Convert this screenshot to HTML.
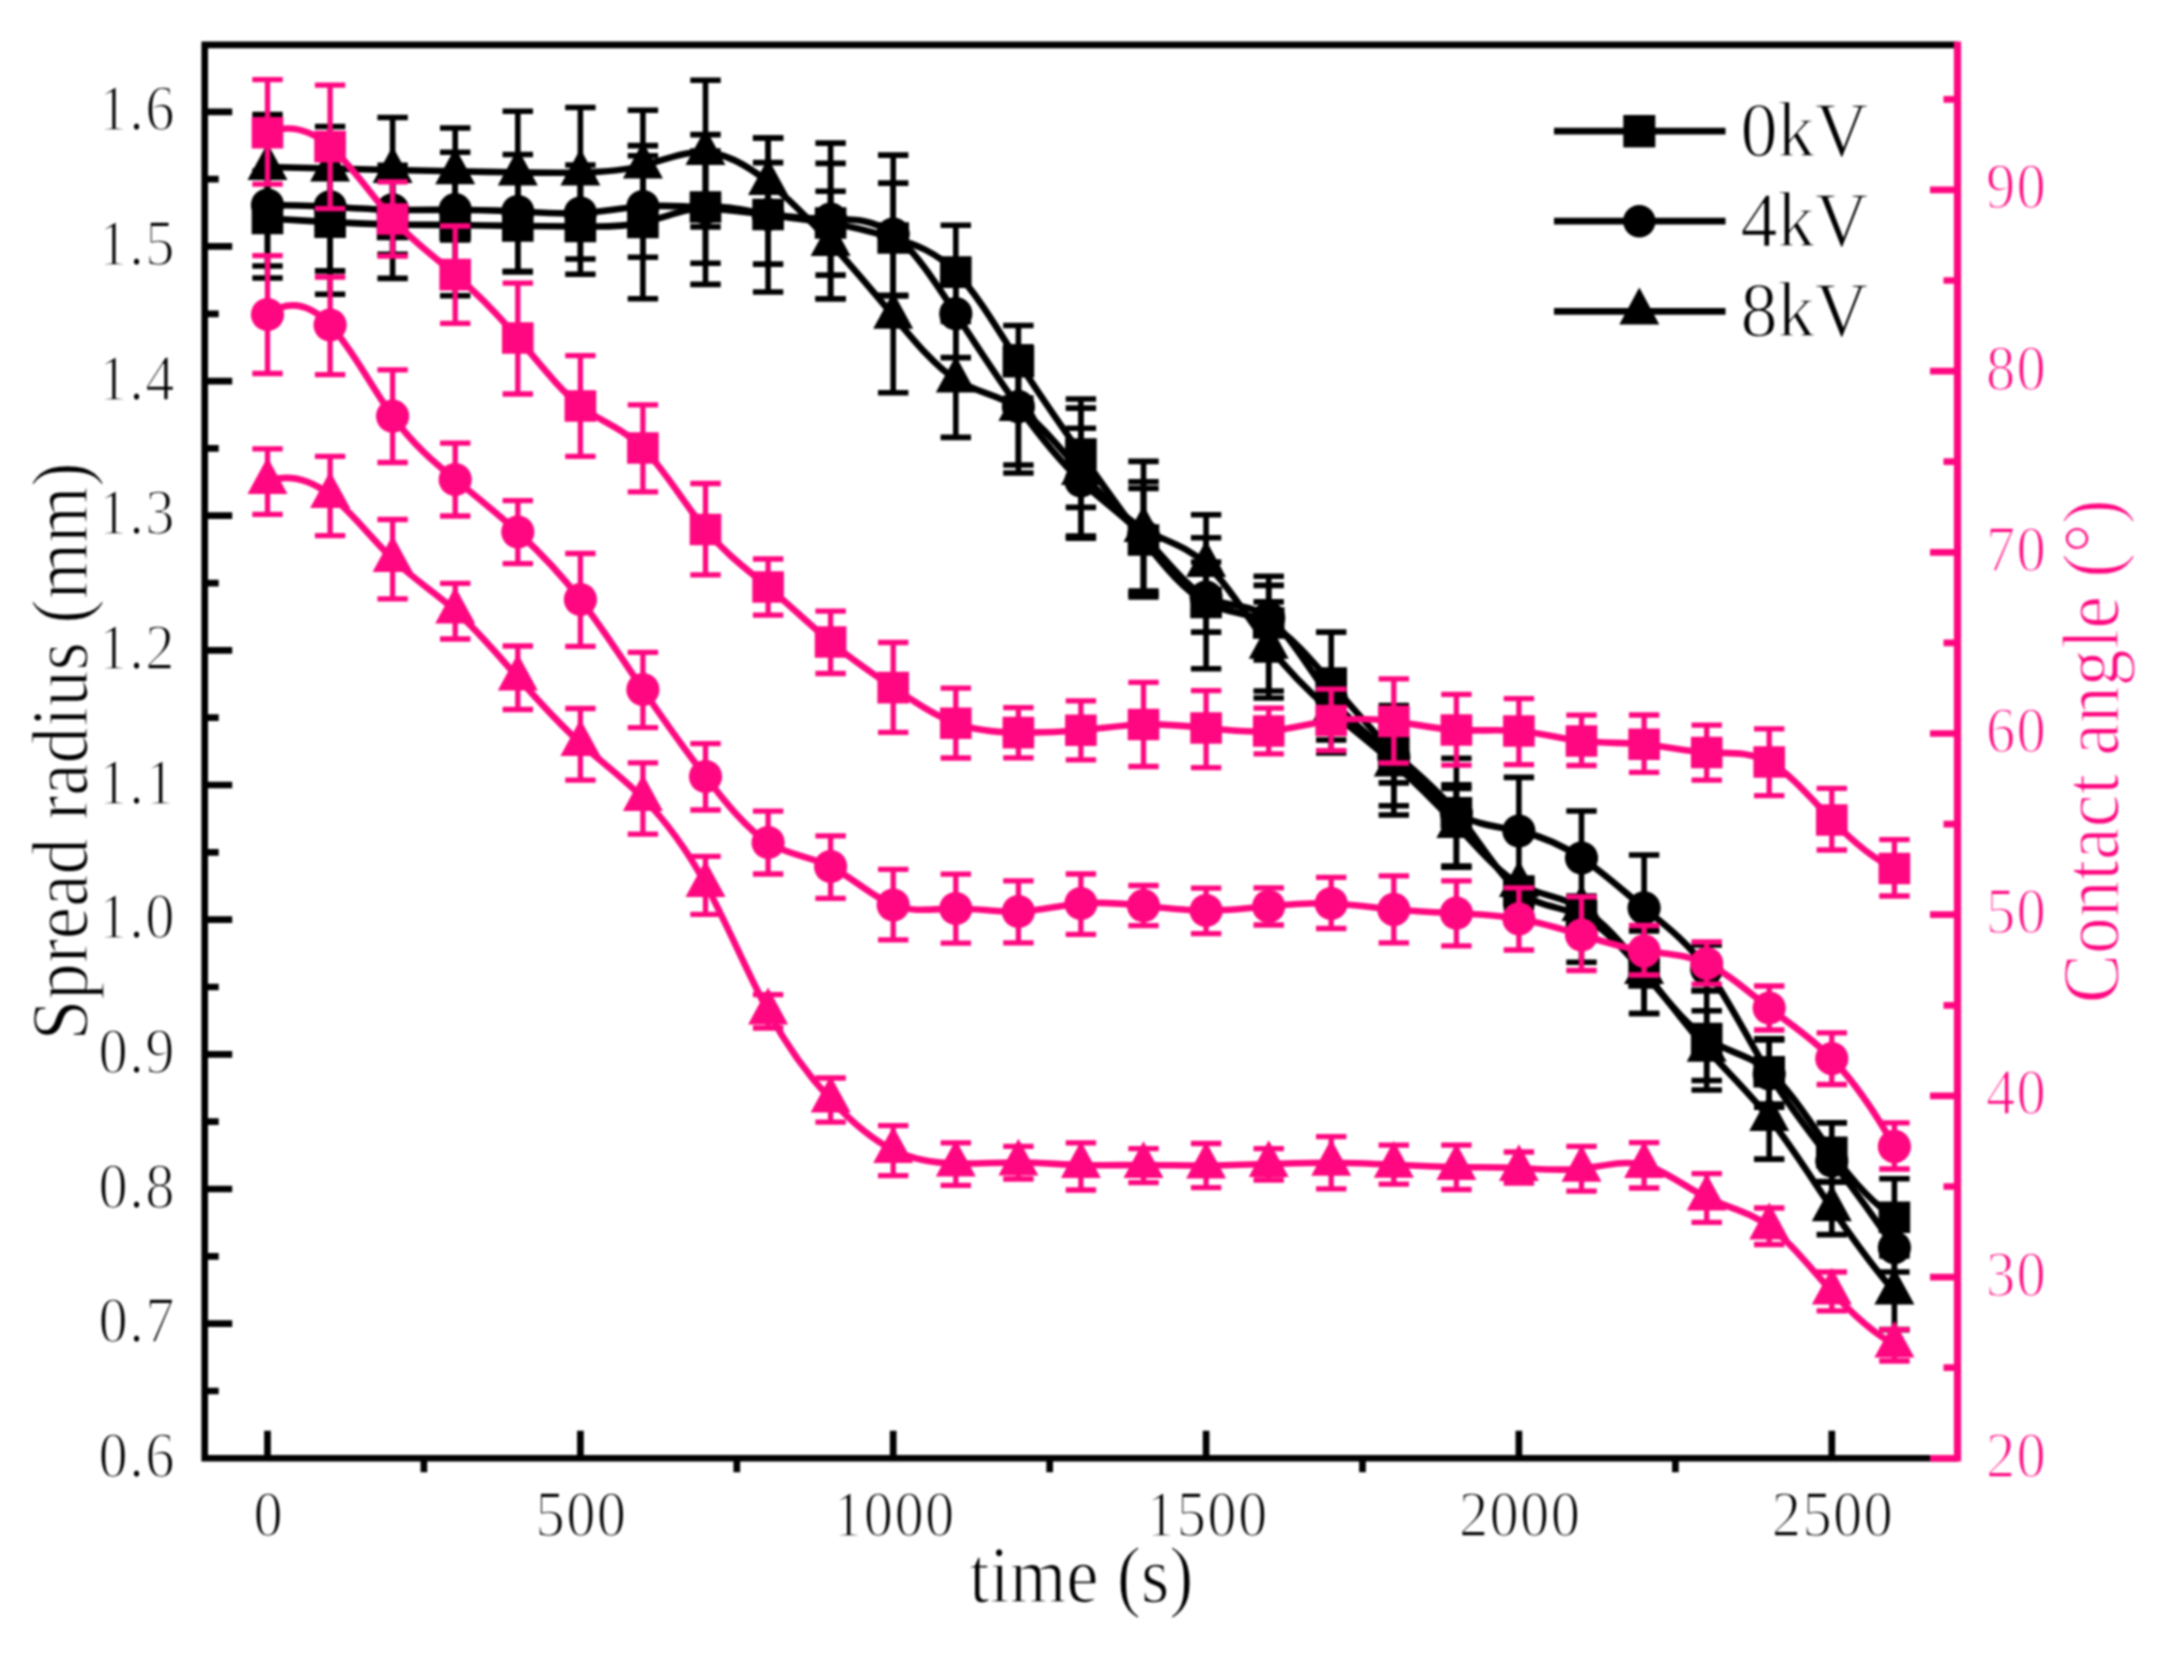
<!DOCTYPE html>
<html lang="en">
<head>
<meta charset="utf-8">
<title>Spread radius and contact angle vs time</title>
<style>
html,body{margin:0;padding:0;background:#fff;}
body{width:2183px;height:1654px;overflow:hidden;}
svg{display:block;}
</style>
</head>
<body>
<svg width="2183" height="1654" viewBox="0 0 2183 1654">
<defs><filter id="soft" x="0" y="0" width="100%" height="100%" filterUnits="userSpaceOnUse" color-interpolation-filters="sRGB"><feGaussianBlur stdDeviation="0.9"/></filter></defs>
<g filter="url(#soft)">
<rect x="0" y="0" width="2183" height="1654" fill="#fff"/>
<path d="M204.7 1391h14M204.7 1323.7h27.5M204.7 1256.3h14M204.7 1189h27.5M204.7 1121.7h14M204.7 1054.3h27.5M204.7 987h14M204.7 919.7h27.5M204.7 852.4h14M204.7 785h27.5M204.7 717.7h14M204.7 650.4h27.5M204.7 583.1h14M204.7 515.7h27.5M204.7 448.4h14M204.7 381.1h27.5M204.7 313.8h14M204.7 246.4h27.5M204.7 179.1h14M204.7 111.8h27.5M267.5 1458.3v-27.5M423.9 1458.3v14M580.4 1458.3v-27.5M736.8 1458.3v14M893.2 1458.3v-27.5M1049.7 1458.3v14M1206.1 1458.3v-27.5M1362.5 1458.3v14M1518.9 1458.3v-27.5M1675.4 1458.3v14M1831.8 1458.3v-27.5" stroke="#000" stroke-width="6.7" fill="none"/>
<path d="M1957.5 44.9H204.7V1458.3H1957.5" stroke="#000" stroke-width="6.6" fill="none" stroke-linejoin="miter"/>
<path d="M1957.5 1458.3h-27.5M1957.5 1367.7h-14M1957.5 1277.1h-27.5M1957.5 1186.5h-14M1957.5 1095.9h-27.5M1957.5 1005.3h-14M1957.5 914.7h-27.5M1957.5 824.1h-14M1957.5 733.5h-27.5M1957.5 642.9h-14M1957.5 552.3h-27.5M1957.5 461.7h-14M1957.5 371.1h-27.5M1957.5 280.5h-14M1957.5 189.9h-27.5M1957.5 99.3h-14" stroke="#ff0780" stroke-width="6.7" fill="none"/>
<path d="M1957.5 41.6V1461.6" stroke="#ff0780" stroke-width="7.199999999999999" fill="none"/>
<g id="black">
<path d="M267.5 218.5C288.4 219.7 309.2 221 330.1 222.1C350.9 223.2 371.8 224.1 392.6 224.5C413.5 224.9 434.4 224.8 455.2 225C476.1 225.2 496.9 225.7 517.8 226C538.6 226.3 559.5 226.4 580.4 226.5C601.2 226.6 622.1 226.9 642.9 222.4C663.8 217.9 684.6 208.7 705.5 207C726.4 205.3 747.2 210.9 768.1 214.5C788.9 218.1 809.8 219.5 830.6 223C851.5 226.5 872.4 231.9 893.2 238C914.1 244.1 934.9 250.9 955.8 272.1C976.6 293.3 997.5 329 1018.4 361.8C1039.2 394.6 1060.1 424.4 1080.9 454C1101.8 483.6 1122.7 513.1 1143.5 540C1164.4 566.9 1185.2 591.3 1206.1 602.5C1226.9 613.7 1247.8 611.8 1268.7 623C1289.5 634.2 1310.4 658.5 1331.2 683C1352.1 707.5 1372.9 732.1 1393.8 752C1414.7 771.9 1435.5 787.2 1456.4 812.7C1477.2 838.2 1498.1 874.1 1518.9 891C1539.8 907.9 1560.7 905.9 1581.5 916C1602.4 926.1 1623.2 948.4 1644.1 973C1664.9 997.6 1685.8 1024.4 1706.7 1038.5C1727.5 1052.6 1748.4 1053.9 1769.2 1071.7C1790.1 1089.5 1810.9 1123.7 1831.8 1152.4C1852.7 1181.1 1873.5 1204.5 1894.4 1217.3" fill="none" stroke="#000" stroke-width="6.6" stroke-linejoin="round"/>
<path d="M267.5 171V266M252.3 171H282.7M252.3 266H282.7M330.1 150V294.3M314.9 150H345.3M314.9 294.3H345.3M392.6 170.5V278.4M377.4 170.5H407.8M377.4 278.4H407.8M455.2 152.2V295.8M440 152.2H470.4M440 295.8H470.4M517.8 179V271.6M502.6 179H533M502.6 271.6H533M580.4 176.7V274.3M565.2 176.7H595.6M565.2 274.3H595.6M642.9 145.6V298.8M627.7 145.6H658.1M627.7 298.8H658.1M705.5 134.6V284.4M690.3 134.6H720.7M690.3 284.4H720.7M768.1 162.6V264.1M752.9 162.6H783.3M752.9 264.1H783.3M830.6 143.1V298.8M815.4 143.1H845.8M815.4 298.8H845.8M893.2 183.1V295.3M878 183.1H908.4M878 295.3H908.4M955.8 225.2V319M940.6 225.2H971M940.6 319H971M1018.4 325.5V398M1003.2 325.5H1033.6M1003.2 398H1033.6M1080.9 399V507.4M1065.7 399H1096.1M1065.7 507.4H1096.1M1143.5 488.4V594M1128.3 488.4H1158.7M1128.3 594H1158.7M1206.1 537.7V668.7M1190.9 537.7H1221.3M1190.9 668.7H1221.3M1268.7 585.4V698M1253.5 585.4H1283.9M1253.5 698H1283.9M1331.2 632.1V733M1316 632.1H1346.4M1316 733H1346.4M1393.8 705.6V805.8M1378.6 705.6H1409M1378.6 805.8H1409M1456.4 758.2V867.2M1441.2 758.2H1471.6M1441.2 867.2H1471.6M1518.9 885V908M1503.7 885H1534.1M1503.7 908H1534.1M1581.5 900V962.2M1566.3 900H1596.7M1566.3 962.2H1596.7M1644.1 931V1013.5M1628.9 931H1659.3M1628.9 1013.5H1659.3M1706.7 990.6V1090M1691.5 990.6H1721.9M1691.5 1090H1721.9M1769.2 1038.8V1104M1754 1038.8H1784.4M1754 1104H1784.4M1831.8 1122.9V1182M1816.6 1122.9H1847M1816.6 1182H1847M1894.4 1178.8V1256M1879.2 1178.8H1909.6M1879.2 1256H1909.6" fill="none" stroke="#000" stroke-width="5.6"/>
<path d="M251.7 202.7h31.6v31.6h-31.6zM314.3 206.3h31.6v31.6h-31.6zM376.8 208.7h31.6v31.6h-31.6zM439.4 209.2h31.6v31.6h-31.6zM502 210.2h31.6v31.6h-31.6zM564.6 210.7h31.6v31.6h-31.6zM627.1 206.6h31.6v31.6h-31.6zM689.7 191.2h31.6v31.6h-31.6zM752.3 198.7h31.6v31.6h-31.6zM814.8 207.2h31.6v31.6h-31.6zM877.4 222.2h31.6v31.6h-31.6zM940 256.3h31.6v31.6h-31.6zM1002.6 346h31.6v31.6h-31.6zM1065.1 438.2h31.6v31.6h-31.6zM1127.7 524.2h31.6v31.6h-31.6zM1190.3 586.7h31.6v31.6h-31.6zM1252.9 607.2h31.6v31.6h-31.6zM1315.4 667.2h31.6v31.6h-31.6zM1378 736.2h31.6v31.6h-31.6zM1440.6 796.9h31.6v31.6h-31.6zM1503.1 875.2h31.6v31.6h-31.6zM1565.7 900.2h31.6v31.6h-31.6zM1628.3 957.2h31.6v31.6h-31.6zM1690.9 1022.7h31.6v31.6h-31.6zM1753.4 1055.9h31.6v31.6h-31.6zM1816 1136.6h31.6v31.6h-31.6zM1878.6 1201.5h31.6v31.6h-31.6z" fill="#000"/>
<path d="M267.5 205C288.4 205 309.2 205.7 330.1 206.8C350.9 207.9 371.8 209.4 392.6 209.8C413.5 210.2 434.4 209.7 455.2 209.7C476.1 209.7 496.9 210.4 517.8 211.5C538.6 212.6 559.5 214.2 580.4 213C601.2 211.8 622.1 207.9 642.9 206.5C663.8 205.1 684.6 206.2 705.5 208C726.4 209.8 747.2 212.3 768.1 214.5C788.9 216.7 809.8 218.6 830.6 219C851.5 219.4 872.4 218.5 893.2 234C914.1 249.5 934.9 281.6 955.8 313.7C976.6 345.8 997.5 377.8 1018.4 406.7C1039.2 435.6 1060.1 461.2 1080.9 481C1101.8 500.8 1122.7 514.7 1143.5 536C1164.4 557.3 1185.2 585.8 1206.1 597C1226.9 608.2 1247.8 602 1268.7 618C1289.5 634 1310.4 672 1331.2 698C1352.1 724 1372.9 737.9 1393.8 757C1414.7 776.1 1435.5 800.4 1456.4 813C1477.2 825.6 1498.1 826.3 1518.9 831C1539.8 835.7 1560.7 844.2 1581.5 858C1602.4 871.8 1623.2 890.9 1644.1 908C1664.9 925.1 1685.8 940.3 1706.7 969C1727.5 997.7 1748.4 1039.9 1769.2 1074C1790.1 1108.1 1810.9 1134.1 1831.8 1161C1852.7 1187.9 1873.5 1215.8 1894.4 1247.6" fill="none" stroke="#000" stroke-width="6.6" stroke-linejoin="round"/>
<path d="M267.5 132V278M252.3 132H282.7M252.3 278H282.7M330.1 142.7V270.9M314.9 142.7H345.3M314.9 270.9H345.3M392.6 165.3V254.3M377.4 165.3H407.8M377.4 254.3H407.8M455.2 180V240M440 180H470.4M440 240H470.4M517.8 154.5V271.6M502.6 154.5H533M502.6 271.6H533M580.4 165V259M565.2 165H595.6M565.2 259H595.6M642.9 155.8V257.3M627.7 155.8H658.1M627.7 257.3H658.1M705.5 151V263.3M690.3 151H720.7M690.3 263.3H720.7M768.1 138V292M752.9 138H783.3M752.9 292H783.3M830.6 163.4V275.1M815.4 163.4H845.8M815.4 275.1H845.8M893.2 155.1V296M878 155.1H908.4M878 296H908.4M955.8 269.8V357.6M940.6 269.8H971M940.6 357.6H971M1018.4 347V465M1003.2 347H1033.6M1003.2 465H1033.6M1080.9 428.3V538.2M1065.7 428.3H1096.1M1065.7 538.2H1096.1M1143.5 481.8V591M1128.3 481.8H1158.7M1128.3 591H1158.7M1206.1 562V632.1M1190.9 562H1221.3M1190.9 632.1H1221.3M1268.7 576.2V660M1253.5 576.2H1283.9M1253.5 660H1283.9M1331.2 676V740M1316 676H1346.4M1316 740H1346.4M1393.8 731V782.9M1378.6 731H1409M1378.6 782.9H1409M1456.4 784.8V834M1441.2 784.8H1471.6M1441.2 834H1471.6M1518.9 777.4V884M1503.7 777.4H1534.1M1503.7 884H1534.1M1581.5 811V905M1566.3 811H1596.7M1566.3 905H1596.7M1644.1 855V961M1628.9 855H1659.3M1628.9 961H1659.3M1706.7 945V990.6M1691.5 945H1721.9M1691.5 990.6H1721.9M1769.2 1040V1107.2M1754 1040H1784.4M1754 1107.2H1784.4M1831.8 1140V1182M1816.6 1140H1847M1816.6 1182H1847M1894.4 1223V1272M1879.2 1223H1909.6M1879.2 1272H1909.6" fill="none" stroke="#000" stroke-width="5.6"/>
<path d="M250.9 205a16.6 16.6 0 1 0 33.2 0a16.6 16.6 0 1 0 -33.2 0zM313.5 206.8a16.6 16.6 0 1 0 33.2 0a16.6 16.6 0 1 0 -33.2 0zM376 209.8a16.6 16.6 0 1 0 33.2 0a16.6 16.6 0 1 0 -33.2 0zM438.6 209.7a16.6 16.6 0 1 0 33.2 0a16.6 16.6 0 1 0 -33.2 0zM501.2 211.5a16.6 16.6 0 1 0 33.2 0a16.6 16.6 0 1 0 -33.2 0zM563.8 213a16.6 16.6 0 1 0 33.2 0a16.6 16.6 0 1 0 -33.2 0zM626.3 206.5a16.6 16.6 0 1 0 33.2 0a16.6 16.6 0 1 0 -33.2 0zM688.9 208a16.6 16.6 0 1 0 33.2 0a16.6 16.6 0 1 0 -33.2 0zM751.5 214.5a16.6 16.6 0 1 0 33.2 0a16.6 16.6 0 1 0 -33.2 0zM814 219a16.6 16.6 0 1 0 33.2 0a16.6 16.6 0 1 0 -33.2 0zM876.6 234a16.6 16.6 0 1 0 33.2 0a16.6 16.6 0 1 0 -33.2 0zM939.2 313.7a16.6 16.6 0 1 0 33.2 0a16.6 16.6 0 1 0 -33.2 0zM1001.8 406.7a16.6 16.6 0 1 0 33.2 0a16.6 16.6 0 1 0 -33.2 0zM1064.3 481a16.6 16.6 0 1 0 33.2 0a16.6 16.6 0 1 0 -33.2 0zM1126.9 536a16.6 16.6 0 1 0 33.2 0a16.6 16.6 0 1 0 -33.2 0zM1189.5 597a16.6 16.6 0 1 0 33.2 0a16.6 16.6 0 1 0 -33.2 0zM1252.1 618a16.6 16.6 0 1 0 33.2 0a16.6 16.6 0 1 0 -33.2 0zM1314.6 698a16.6 16.6 0 1 0 33.2 0a16.6 16.6 0 1 0 -33.2 0zM1377.2 757a16.6 16.6 0 1 0 33.2 0a16.6 16.6 0 1 0 -33.2 0zM1439.8 813a16.6 16.6 0 1 0 33.2 0a16.6 16.6 0 1 0 -33.2 0zM1502.3 831a16.6 16.6 0 1 0 33.2 0a16.6 16.6 0 1 0 -33.2 0zM1564.9 858a16.6 16.6 0 1 0 33.2 0a16.6 16.6 0 1 0 -33.2 0zM1627.5 908a16.6 16.6 0 1 0 33.2 0a16.6 16.6 0 1 0 -33.2 0zM1690.1 969a16.6 16.6 0 1 0 33.2 0a16.6 16.6 0 1 0 -33.2 0zM1752.6 1074a16.6 16.6 0 1 0 33.2 0a16.6 16.6 0 1 0 -33.2 0zM1815.2 1161a16.6 16.6 0 1 0 33.2 0a16.6 16.6 0 1 0 -33.2 0zM1877.8 1247.6a16.6 16.6 0 1 0 33.2 0a16.6 16.6 0 1 0 -33.2 0z" fill="#000"/>
<path d="M267.5 167C288.4 167.5 309.2 168 330.1 168.5C350.9 169 371.8 169.6 392.6 170C413.5 170.4 434.4 170.8 455.2 171.2C476.1 171.6 496.9 172.1 517.8 172.4C538.6 172.7 559.5 173 580.4 172.5C601.2 172 622.1 170.9 642.9 165.6C663.8 160.3 684.6 150.8 705.5 152.1C726.4 153.4 747.2 165.3 768.1 182C788.9 198.7 809.8 220 830.6 243C851.5 266 872.4 290.7 893.2 315.7C914.1 340.7 934.9 366.1 955.8 379.5C976.6 392.9 997.5 394.1 1018.4 408C1039.2 421.9 1060.1 448.3 1080.9 472C1101.8 495.7 1122.7 516.7 1143.5 529C1164.4 541.3 1185.2 544.7 1206.1 564C1226.9 583.3 1247.8 618.3 1268.7 645.7C1289.5 673.1 1310.4 693 1331.2 711C1352.1 729 1372.9 745.1 1393.8 763.5C1414.7 781.9 1435.5 802.5 1456.4 825C1477.2 847.5 1498.1 871.9 1518.9 884C1539.8 896.1 1560.7 895.8 1581.5 908C1602.4 920.2 1623.2 944.7 1644.1 971C1664.9 997.3 1685.8 1025.2 1706.7 1048.8C1727.5 1072.4 1748.4 1091.8 1769.2 1118C1790.1 1144.2 1810.9 1177.4 1831.8 1208.2C1852.7 1239 1873.5 1267.5 1894.4 1291.6" fill="none" stroke="#000" stroke-width="6.6" stroke-linejoin="round"/>
<path d="M267.5 114.6V219.3M252.3 114.6H282.7M252.3 219.3H282.7M330.1 126.5V210.5M314.9 126.5H345.3M314.9 210.5H345.3M392.6 117.5V222.5M377.4 117.5H407.8M377.4 222.5H407.8M455.2 128V214.4M440 128H470.4M440 214.4H470.4M517.8 111.2V233.6M502.6 111.2H533M502.6 233.6H533M580.4 107.5V237.5M565.2 107.5H595.6M565.2 237.5H595.6M642.9 110.3V221M627.7 110.3H658.1M627.7 221H658.1M705.5 80.3V226.9M690.3 80.3H720.7M690.3 226.9H720.7M768.1 138V226M752.9 138H783.3M752.9 226H783.3M830.6 191.3V298.8M815.4 191.3H845.8M815.4 298.8H845.8M893.2 238.7V392.7M878 238.7H908.4M878 392.7H908.4M955.8 321.5V437.4M940.6 321.5H971M940.6 437.4H971M1018.4 347V473M1003.2 347H1033.6M1003.2 473H1033.6M1080.9 408.1V536M1065.7 408.1H1096.1M1065.7 536H1096.1M1143.5 461.4V597M1128.3 461.4H1158.7M1128.3 597H1158.7M1206.1 514.8V613M1190.9 514.8H1221.3M1190.9 613H1221.3M1268.7 601.9V691M1253.5 601.9H1283.9M1253.5 691H1283.9M1331.2 682V753M1316 682H1346.4M1316 753H1346.4M1393.8 712V815M1378.6 712H1409M1378.6 815H1409M1456.4 788.4V866M1441.2 788.4H1471.6M1441.2 866H1471.6M1518.9 880V905M1503.7 880H1534.1M1503.7 905H1534.1M1581.5 896V936M1566.3 896H1596.7M1566.3 936H1596.7M1644.1 929V1013.5M1628.9 929H1659.3M1628.9 1013.5H1659.3M1706.7 1010.7V1080.5M1691.5 1010.7H1721.9M1691.5 1080.5H1721.9M1769.2 1077V1159.1M1754 1077H1784.4M1754 1159.1H1784.4M1831.8 1181.5V1234.6M1816.6 1181.5H1847M1816.6 1234.6H1847M1894.4 1253.6V1329.6M1879.2 1253.6H1909.6M1879.2 1329.6H1909.6" fill="none" stroke="#000" stroke-width="5.6"/>
<path d="M267.5 143.2L287.5 180L247.5 180zM330.1 144.7L350.1 181.5L310.1 181.5zM392.6 146.2L412.6 183L372.6 183zM455.2 147.4L475.2 184.2L435.2 184.2zM517.8 148.6L537.8 185.4L497.8 185.4zM580.4 148.7L600.4 185.5L560.4 185.5zM642.9 141.8L662.9 178.6L622.9 178.6zM705.5 128.3L725.5 165.1L685.5 165.1zM768.1 158.2L788.1 195L748.1 195zM830.6 219.2L850.6 256L810.6 256zM893.2 291.9L913.2 328.7L873.2 328.7zM955.8 355.7L975.8 392.5L935.8 392.5zM1018.4 384.2L1038.4 421L998.4 421zM1080.9 448.2L1100.9 485L1060.9 485zM1143.5 505.2L1163.5 542L1123.5 542zM1206.1 540.2L1226.1 577L1186.1 577zM1268.7 621.9L1288.7 658.7L1248.7 658.7zM1331.2 687.2L1351.2 724L1311.2 724zM1393.8 739.7L1413.8 776.5L1373.8 776.5zM1456.4 801.2L1476.4 838L1436.4 838zM1518.9 860.2L1538.9 897L1498.9 897zM1581.5 884.2L1601.5 921L1561.5 921zM1644.1 947.2L1664.1 984L1624.1 984zM1706.7 1025L1726.7 1061.8L1686.7 1061.8zM1769.2 1094.2L1789.2 1131L1749.2 1131zM1831.8 1184.4L1851.8 1221.2L1811.8 1221.2zM1894.4 1267.8L1914.4 1304.6L1874.4 1304.6z" fill="#000"/>
</g>
<g id="pink">
<path d="M267.5 132.8C288.4 124 309.2 128.6 330.1 146.6C350.9 164.6 371.8 196 392.6 219C413.5 242 434.4 256.7 455.2 274.6C476.1 292.5 496.9 313.7 517.8 338C538.6 362.3 559.5 389.7 580.4 406C601.2 422.3 622.1 427.5 642.9 448C663.8 468.5 684.6 504.2 705.5 529.5C726.4 554.8 747.2 569.5 768.1 587C788.9 604.5 809.8 624.7 830.6 642C851.5 659.3 872.4 673.5 893.2 687.6C914.1 701.7 934.9 715.6 955.8 723.3C976.6 731 997.5 732.3 1018.4 732.6C1039.2 732.9 1060.1 732.1 1080.9 730.2C1101.8 728.3 1122.7 725.1 1143.5 724.5C1164.4 723.9 1185.2 725.8 1206.1 728C1226.9 730.2 1247.8 732.8 1268.7 731C1289.5 729.2 1310.4 723.1 1331.2 720.5C1352.1 717.9 1372.9 718.7 1393.8 721.4C1414.7 724.1 1435.5 728.7 1456.4 730C1477.2 731.3 1498.1 729.2 1518.9 731C1539.8 732.8 1560.7 738.6 1581.5 741C1602.4 743.4 1623.2 742.3 1644.1 744.3C1664.9 746.3 1685.8 751.4 1706.7 752.5C1727.5 753.6 1748.4 750.8 1769.2 762C1790.1 773.2 1810.9 798.5 1831.8 820C1852.7 841.5 1873.5 859.1 1894.4 868.5" fill="none" stroke="#ff0780" stroke-width="6.6" stroke-linejoin="round"/>
<path d="M267.5 79.6V184.2M252.3 79.6H282.7M252.3 184.2H282.7M330.1 85.2V208.7M314.9 85.2H345.3M314.9 208.7H345.3M392.6 181.8V256.1M377.4 181.8H407.8M377.4 256.1H407.8M455.2 226V323.4M440 226H470.4M440 323.4H470.4M517.8 283.1V394M502.6 283.1H533M502.6 394H533M580.4 355.6V456.3M565.2 355.6H595.6M565.2 456.3H595.6M642.9 404.8V491.9M627.7 404.8H658.1M627.7 491.9H658.1M705.5 483.5V574.8M690.3 483.5H720.7M690.3 574.8H720.7M768.1 559V615.1M752.9 559H783.3M752.9 615.1H783.3M830.6 611.2V673.5M815.4 611.2H845.8M815.4 673.5H845.8M893.2 642.5V732.4M878 642.5H908.4M878 732.4H908.4M955.8 688.2V758M940.6 688.2H971M940.6 758H971M1018.4 707.7V757.8M1003.2 707.7H1033.6M1003.2 757.8H1033.6M1080.9 700.8V759.9M1065.7 700.8H1096.1M1065.7 759.9H1096.1M1143.5 682.4V766.5M1128.3 682.4H1158.7M1128.3 766.5H1158.7M1206.1 690.7V767.7M1190.9 690.7H1221.3M1190.9 767.7H1221.3M1268.7 708.1V753.9M1253.5 708.1H1283.9M1253.5 753.9H1283.9M1331.2 689.2V750.6M1316 689.2H1346.4M1316 750.6H1346.4M1393.8 678.8V763M1378.6 678.8H1409M1378.6 763H1409M1456.4 694.4V765.2M1441.2 694.4H1471.6M1441.2 765.2H1471.6M1518.9 698.6V764.6M1503.7 698.6H1534.1M1503.7 764.6H1534.1M1581.5 715.1V765.5M1566.3 715.1H1596.7M1566.3 765.5H1596.7M1644.1 715V772.4M1628.9 715H1659.3M1628.9 772.4H1659.3M1706.7 725.2V780.2M1691.5 725.2H1721.9M1691.5 780.2H1721.9M1769.2 728.9V795.6M1754 728.9H1784.4M1754 795.6H1784.4M1831.8 788.3V850M1816.6 788.3H1847M1816.6 850H1847M1894.4 839.6V896M1879.2 839.6H1909.6M1879.2 896H1909.6" fill="none" stroke="#ff0780" stroke-width="5.3"/>
<path d="M251.7 117h31.6v31.6h-31.6zM314.3 130.8h31.6v31.6h-31.6zM376.8 203.2h31.6v31.6h-31.6zM439.4 258.8h31.6v31.6h-31.6zM502 322.2h31.6v31.6h-31.6zM564.6 390.2h31.6v31.6h-31.6zM627.1 432.2h31.6v31.6h-31.6zM689.7 513.7h31.6v31.6h-31.6zM752.3 571.2h31.6v31.6h-31.6zM814.8 626.2h31.6v31.6h-31.6zM877.4 671.8h31.6v31.6h-31.6zM940 707.5h31.6v31.6h-31.6zM1002.6 716.8h31.6v31.6h-31.6zM1065.1 714.4h31.6v31.6h-31.6zM1127.7 708.7h31.6v31.6h-31.6zM1190.3 712.2h31.6v31.6h-31.6zM1252.9 715.2h31.6v31.6h-31.6zM1315.4 704.7h31.6v31.6h-31.6zM1378 705.6h31.6v31.6h-31.6zM1440.6 714.2h31.6v31.6h-31.6zM1503.1 715.2h31.6v31.6h-31.6zM1565.7 725.2h31.6v31.6h-31.6zM1628.3 728.5h31.6v31.6h-31.6zM1690.9 736.7h31.6v31.6h-31.6zM1753.4 746.2h31.6v31.6h-31.6zM1816 804.2h31.6v31.6h-31.6zM1878.6 852.7h31.6v31.6h-31.6z" fill="#ff0780"/>
<path d="M267.5 314.5C288.4 299.5 309.2 303.1 330.1 325C350.9 346.9 371.8 387.3 392.6 416.2C413.5 445.1 434.4 462.5 455.2 479.5C476.1 496.5 496.9 513 517.8 532C538.6 551 559.5 572.6 580.4 599.5C601.2 626.4 622.1 658.8 642.9 689.5C663.8 720.2 684.6 749.2 705.5 776.5C726.4 803.8 747.2 829.4 768.1 842.5C788.9 855.6 809.8 856.1 830.6 866.5C851.5 876.9 872.4 897 893.2 905C914.1 913 934.9 908.7 955.8 908.5C976.6 908.3 997.5 912.3 1018.4 911.5C1039.2 910.7 1060.1 905.3 1080.9 903.5C1101.8 901.7 1122.7 903.5 1143.5 905.7C1164.4 907.9 1185.2 910.4 1206.1 910.5C1226.9 910.6 1247.8 908.3 1268.7 906.3C1289.5 904.3 1310.4 902.7 1331.2 903.5C1352.1 904.3 1372.9 907.5 1393.8 909.5C1414.7 911.5 1435.5 912.3 1456.4 913.2C1477.2 914.1 1498.1 915.2 1518.9 918.8C1539.8 922.4 1560.7 928.7 1581.5 935C1602.4 941.3 1623.2 947.8 1644.1 951C1664.9 954.2 1685.8 954.1 1706.7 963.5C1727.5 972.9 1748.4 991.9 1769.2 1008C1790.1 1024.1 1810.9 1037.2 1831.8 1058.6C1852.7 1080 1873.5 1109.5 1894.4 1146.5" fill="none" stroke="#ff0780" stroke-width="6.6" stroke-linejoin="round"/>
<path d="M267.5 255.7V373.5M252.3 255.7H282.7M252.3 373.5H282.7M330.1 277V374.7M314.9 277H345.3M314.9 374.7H345.3M392.6 369.9V462.5M377.4 369.9H407.8M377.4 462.5H407.8M455.2 443.2V516M440 443.2H470.4M440 516H470.4M517.8 500.6V563.6M502.6 500.6H533M502.6 563.6H533M580.4 553.5V646.3M565.2 553.5H595.6M565.2 646.3H595.6M642.9 652.4V727.6M627.7 652.4H658.1M627.7 727.6H658.1M705.5 743.6V810M690.3 743.6H720.7M690.3 810H720.7M768.1 811.2V874M752.9 811.2H783.3M752.9 874H783.3M830.6 835.8V898.3M815.4 835.8H845.8M815.4 898.3H845.8M893.2 869.4V939.9M878 869.4H908.4M878 939.9H908.4M955.8 874.2V943.1M940.6 874.2H971M940.6 943.1H971M1018.4 880.9V942.9M1003.2 880.9H1033.6M1003.2 942.9H1033.6M1080.9 874V934.4M1065.7 874H1096.1M1065.7 934.4H1096.1M1143.5 885.5V925.7M1128.3 885.5H1158.7M1128.3 925.7H1158.7M1206.1 888.2V933.7M1190.9 888.2H1221.3M1190.9 933.7H1221.3M1268.7 887.8V925M1253.5 887.8H1283.9M1253.5 925H1283.9M1331.2 877.4V928.5M1316 877.4H1346.4M1316 928.5H1346.4M1393.8 875.8V942.9M1378.6 875.8H1409M1378.6 942.9H1409M1456.4 880.9V945.9M1441.2 880.9H1471.6M1441.2 945.9H1471.6M1518.9 887.8V950M1503.7 887.8H1534.1M1503.7 950H1534.1M1581.5 896.8V970.5M1566.3 896.8H1596.7M1566.3 970.5H1596.7M1644.1 925.5V975M1628.9 925.5H1659.3M1628.9 975H1659.3M1706.7 942V984.2M1691.5 942H1721.9M1691.5 984.2H1721.9M1769.2 986V1030M1754 986H1784.4M1754 1030H1784.4M1831.8 1032.8V1084.5M1816.6 1032.8H1847M1816.6 1084.5H1847M1894.4 1122.9V1169M1879.2 1122.9H1909.6M1879.2 1169H1909.6" fill="none" stroke="#ff0780" stroke-width="5.3"/>
<path d="M250.9 314.5a16.6 16.6 0 1 0 33.2 0a16.6 16.6 0 1 0 -33.2 0zM313.5 325a16.6 16.6 0 1 0 33.2 0a16.6 16.6 0 1 0 -33.2 0zM376 416.2a16.6 16.6 0 1 0 33.2 0a16.6 16.6 0 1 0 -33.2 0zM438.6 479.5a16.6 16.6 0 1 0 33.2 0a16.6 16.6 0 1 0 -33.2 0zM501.2 532a16.6 16.6 0 1 0 33.2 0a16.6 16.6 0 1 0 -33.2 0zM563.8 599.5a16.6 16.6 0 1 0 33.2 0a16.6 16.6 0 1 0 -33.2 0zM626.3 689.5a16.6 16.6 0 1 0 33.2 0a16.6 16.6 0 1 0 -33.2 0zM688.9 776.5a16.6 16.6 0 1 0 33.2 0a16.6 16.6 0 1 0 -33.2 0zM751.5 842.5a16.6 16.6 0 1 0 33.2 0a16.6 16.6 0 1 0 -33.2 0zM814 866.5a16.6 16.6 0 1 0 33.2 0a16.6 16.6 0 1 0 -33.2 0zM876.6 905a16.6 16.6 0 1 0 33.2 0a16.6 16.6 0 1 0 -33.2 0zM939.2 908.5a16.6 16.6 0 1 0 33.2 0a16.6 16.6 0 1 0 -33.2 0zM1001.8 911.5a16.6 16.6 0 1 0 33.2 0a16.6 16.6 0 1 0 -33.2 0zM1064.3 903.5a16.6 16.6 0 1 0 33.2 0a16.6 16.6 0 1 0 -33.2 0zM1126.9 905.7a16.6 16.6 0 1 0 33.2 0a16.6 16.6 0 1 0 -33.2 0zM1189.5 910.5a16.6 16.6 0 1 0 33.2 0a16.6 16.6 0 1 0 -33.2 0zM1252.1 906.3a16.6 16.6 0 1 0 33.2 0a16.6 16.6 0 1 0 -33.2 0zM1314.6 903.5a16.6 16.6 0 1 0 33.2 0a16.6 16.6 0 1 0 -33.2 0zM1377.2 909.5a16.6 16.6 0 1 0 33.2 0a16.6 16.6 0 1 0 -33.2 0zM1439.8 913.2a16.6 16.6 0 1 0 33.2 0a16.6 16.6 0 1 0 -33.2 0zM1502.3 918.8a16.6 16.6 0 1 0 33.2 0a16.6 16.6 0 1 0 -33.2 0zM1564.9 935a16.6 16.6 0 1 0 33.2 0a16.6 16.6 0 1 0 -33.2 0zM1627.5 951a16.6 16.6 0 1 0 33.2 0a16.6 16.6 0 1 0 -33.2 0zM1690.1 963.5a16.6 16.6 0 1 0 33.2 0a16.6 16.6 0 1 0 -33.2 0zM1752.6 1008a16.6 16.6 0 1 0 33.2 0a16.6 16.6 0 1 0 -33.2 0zM1815.2 1058.6a16.6 16.6 0 1 0 33.2 0a16.6 16.6 0 1 0 -33.2 0zM1877.8 1146.5a16.6 16.6 0 1 0 33.2 0a16.6 16.6 0 1 0 -33.2 0z" fill="#ff0780"/>
<path d="M267.5 481C288.4 474.1 309.2 478.8 330.1 495C350.9 511.2 371.8 538.8 392.6 559C413.5 579.2 434.4 591.8 455.2 610.5C476.1 629.2 496.9 653.8 517.8 677.5C538.6 701.2 559.5 724 580.4 743C601.2 762 622.1 777.1 642.9 798C663.8 818.9 684.6 845.5 705.5 884C726.4 922.5 747.2 972.7 768.1 1011.4C788.9 1050.1 809.8 1077.1 830.6 1099.5C851.5 1121.9 872.4 1139.7 893.2 1150C914.1 1160.3 934.9 1163 955.8 1163.5C976.6 1164 997.5 1162.4 1018.4 1162.5C1039.2 1162.6 1060.1 1164.4 1080.9 1165C1101.8 1165.6 1122.7 1165 1143.5 1165C1164.4 1165 1185.2 1165.6 1206.1 1165.5C1226.9 1165.4 1247.8 1164.7 1268.7 1164C1289.5 1163.3 1310.4 1162.6 1331.2 1162.7C1352.1 1162.8 1372.9 1163.7 1393.8 1164.7C1414.7 1165.7 1435.5 1166.6 1456.4 1167C1477.2 1167.4 1498.1 1167.1 1518.9 1168C1539.8 1168.9 1560.7 1171 1581.5 1168.7C1602.4 1166.4 1623.2 1159.8 1644.1 1165C1664.9 1170.2 1685.8 1187.3 1706.7 1197.5C1727.5 1207.7 1748.4 1211.2 1769.2 1226.4C1790.1 1241.6 1810.9 1268.6 1831.8 1291.5C1852.7 1314.4 1873.5 1333.3 1894.4 1344.5" fill="none" stroke="#ff0780" stroke-width="6.6" stroke-linejoin="round"/>
<path d="M267.5 448.9V514.4M252.3 448.9H282.7M252.3 514.4H282.7M330.1 456.3V535.6M314.9 456.3H345.3M314.9 535.6H345.3M392.6 519.5V598.8M377.4 519.5H407.8M377.4 598.8H407.8M455.2 583.4V639M440 583.4H470.4M440 639H470.4M517.8 646V709.5M502.6 646H533M502.6 709.5H533M580.4 708.5V780.2M565.2 708.5H595.6M565.2 780.2H595.6M642.9 762.8V834.2M627.7 762.8H658.1M627.7 834.2H658.1M705.5 856.3V914.4M690.3 856.3H720.7M690.3 914.4H720.7M768.1 994.6V1028M752.9 994.6H783.3M752.9 1028H783.3M830.6 1078V1122.2M815.4 1078H845.8M815.4 1122.2H845.8M893.2 1125.6V1175.7M878 1125.6H908.4M878 1175.7H908.4M955.8 1142.8V1185.3M940.6 1142.8H971M940.6 1185.3H971M1018.4 1146.3V1179M1003.2 1146.3H1033.6M1003.2 1179H1033.6M1080.9 1142.8V1190M1065.7 1142.8H1096.1M1065.7 1190H1096.1M1143.5 1148.6V1182.6M1128.3 1148.6H1158.7M1128.3 1182.6H1158.7M1206.1 1143.5V1187.6M1190.9 1143.5H1221.3M1190.9 1187.6H1221.3M1268.7 1148.6V1180M1253.5 1148.6H1283.9M1253.5 1180H1283.9M1331.2 1136.6V1188.8M1316 1136.6H1346.4M1316 1188.8H1346.4M1393.8 1145.1V1184.2M1378.6 1145.1H1409M1378.6 1184.2H1409M1456.4 1145.1V1189.5M1441.2 1145.1H1471.6M1441.2 1189.5H1471.6M1518.9 1152V1183M1503.7 1152H1534.1M1503.7 1183H1534.1M1581.5 1146.3V1191.1M1566.3 1146.3H1596.7M1566.3 1191.1H1596.7M1644.1 1142.6V1188M1628.9 1142.6H1659.3M1628.9 1188H1659.3M1706.7 1173.7V1222.4M1691.5 1173.7H1721.9M1691.5 1222.4H1721.9M1769.2 1208V1244.5M1754 1208H1784.4M1754 1244.5H1784.4M1831.8 1272V1310.9M1816.6 1272H1847M1816.6 1310.9H1847M1894.4 1329.7V1361M1879.2 1329.7H1909.6M1879.2 1361H1909.6" fill="none" stroke="#ff0780" stroke-width="5.3"/>
<path d="M267.5 457.2L287.5 494L247.5 494zM330.1 471.2L350.1 508L310.1 508zM392.6 535.2L412.6 572L372.6 572zM455.2 586.7L475.2 623.5L435.2 623.5zM517.8 653.7L537.8 690.5L497.8 690.5zM580.4 719.2L600.4 756L560.4 756zM642.9 774.2L662.9 811L622.9 811zM705.5 860.2L725.5 897L685.5 897zM768.1 987.6L788.1 1024.4L748.1 1024.4zM830.6 1075.7L850.6 1112.5L810.6 1112.5zM893.2 1126.2L913.2 1163L873.2 1163zM955.8 1139.7L975.8 1176.5L935.8 1176.5zM1018.4 1138.7L1038.4 1175.5L998.4 1175.5zM1080.9 1141.2L1100.9 1178L1060.9 1178zM1143.5 1141.2L1163.5 1178L1123.5 1178zM1206.1 1141.7L1226.1 1178.5L1186.1 1178.5zM1268.7 1140.2L1288.7 1177L1248.7 1177zM1331.2 1138.9L1351.2 1175.7L1311.2 1175.7zM1393.8 1140.9L1413.8 1177.7L1373.8 1177.7zM1456.4 1143.2L1476.4 1180L1436.4 1180zM1518.9 1144.2L1538.9 1181L1498.9 1181zM1581.5 1144.9L1601.5 1181.7L1561.5 1181.7zM1644.1 1141.2L1664.1 1178L1624.1 1178zM1706.7 1173.7L1726.7 1210.5L1686.7 1210.5zM1769.2 1202.6L1789.2 1239.4L1749.2 1239.4zM1831.8 1267.7L1851.8 1304.5L1811.8 1304.5zM1894.4 1320.7L1914.4 1357.5L1874.4 1357.5z" fill="#ff0780"/>
</g>
<path d="M1554 131.2H1725.5" stroke="#000" stroke-width="6.8"/>
<rect x="1623.3" y="115" width="32" height="32.4" fill="#000"/>
<path d="M1554 221.2H1725.5" stroke="#000" stroke-width="6.8"/>
<circle cx="1639.3" cy="221.2" r="16.2" fill="#000"/>
<path d="M1554 311.4H1725.5" stroke="#000" stroke-width="6.8"/>
<path d="M1639.3 287.6L1659.3 324.4L1619.3 324.4z" fill="#000"/>
<g font-family="'Liberation Serif', 'Times New Roman', serif">
<text transform="translate(175.8 1476.9) scale(0.9 1)" font-size="65.0" text-anchor="end" fill="#000" stroke="#fff" stroke-width="1.7" paint-order="fill stroke" letter-spacing="1.5">0.6</text>
<text transform="translate(175.8 1342.2) scale(0.9 1)" font-size="65.0" text-anchor="end" fill="#000" stroke="#fff" stroke-width="1.7" paint-order="fill stroke" letter-spacing="1.5">0.7</text>
<text transform="translate(175.8 1207.6) scale(0.9 1)" font-size="65.0" text-anchor="end" fill="#000" stroke="#fff" stroke-width="1.7" paint-order="fill stroke" letter-spacing="1.5">0.8</text>
<text transform="translate(175.8 1072.9) scale(0.9 1)" font-size="65.0" text-anchor="end" fill="#000" stroke="#fff" stroke-width="1.7" paint-order="fill stroke" letter-spacing="1.5">0.9</text>
<text transform="translate(175.8 938.3) scale(0.9 1)" font-size="65.0" text-anchor="end" fill="#000" stroke="#fff" stroke-width="1.7" paint-order="fill stroke" letter-spacing="1.5">1.0</text>
<text transform="translate(175.8 803.6) scale(0.9 1)" font-size="65.0" text-anchor="end" fill="#000" stroke="#fff" stroke-width="1.7" paint-order="fill stroke" letter-spacing="1.5">1.1</text>
<text transform="translate(175.8 669) scale(0.9 1)" font-size="65.0" text-anchor="end" fill="#000" stroke="#fff" stroke-width="1.7" paint-order="fill stroke" letter-spacing="1.5">1.2</text>
<text transform="translate(175.8 534.3) scale(0.9 1)" font-size="65.0" text-anchor="end" fill="#000" stroke="#fff" stroke-width="1.7" paint-order="fill stroke" letter-spacing="1.5">1.3</text>
<text transform="translate(175.8 399.7) scale(0.9 1)" font-size="65.0" text-anchor="end" fill="#000" stroke="#fff" stroke-width="1.7" paint-order="fill stroke" letter-spacing="1.5">1.4</text>
<text transform="translate(175.8 265) scale(0.9 1)" font-size="65.0" text-anchor="end" fill="#000" stroke="#fff" stroke-width="1.7" paint-order="fill stroke" letter-spacing="1.5">1.5</text>
<text transform="translate(175.8 130.4) scale(0.9 1)" font-size="65.0" text-anchor="end" fill="#000" stroke="#fff" stroke-width="1.7" paint-order="fill stroke" letter-spacing="1.5">1.6</text>
<text transform="translate(1986 1476.7) scale(0.9 1)" font-size="65.0" text-anchor="start" fill="#ff0780" stroke="#fff" stroke-width="1.7" paint-order="fill stroke" letter-spacing="1.5">20</text>
<text transform="translate(1986 1295.5) scale(0.9 1)" font-size="65.0" text-anchor="start" fill="#ff0780" stroke="#fff" stroke-width="1.7" paint-order="fill stroke" letter-spacing="1.5">30</text>
<text transform="translate(1986 1114.3) scale(0.9 1)" font-size="65.0" text-anchor="start" fill="#ff0780" stroke="#fff" stroke-width="1.7" paint-order="fill stroke" letter-spacing="1.5">40</text>
<text transform="translate(1986 933.1) scale(0.9 1)" font-size="65.0" text-anchor="start" fill="#ff0780" stroke="#fff" stroke-width="1.7" paint-order="fill stroke" letter-spacing="1.5">50</text>
<text transform="translate(1986 751.9) scale(0.9 1)" font-size="65.0" text-anchor="start" fill="#ff0780" stroke="#fff" stroke-width="1.7" paint-order="fill stroke" letter-spacing="1.5">60</text>
<text transform="translate(1986 570.7) scale(0.9 1)" font-size="65.0" text-anchor="start" fill="#ff0780" stroke="#fff" stroke-width="1.7" paint-order="fill stroke" letter-spacing="1.5">70</text>
<text transform="translate(1986 389.5) scale(0.9 1)" font-size="65.0" text-anchor="start" fill="#ff0780" stroke="#fff" stroke-width="1.7" paint-order="fill stroke" letter-spacing="1.5">80</text>
<text transform="translate(1986 208.3) scale(0.9 1)" font-size="65.0" text-anchor="start" fill="#ff0780" stroke="#fff" stroke-width="1.7" paint-order="fill stroke" letter-spacing="1.5">90</text>
<text transform="translate(268.7 1535.8) scale(0.9 1)" font-size="65.0" text-anchor="middle" fill="#000" stroke="#fff" stroke-width="1.7" paint-order="fill stroke" letter-spacing="1.5">0</text>
<text transform="translate(581.5 1535.8) scale(0.9 1)" font-size="65.0" text-anchor="middle" fill="#000" stroke="#fff" stroke-width="1.7" paint-order="fill stroke" letter-spacing="1.5">500</text>
<text transform="translate(894.4 1535.8) scale(0.9 1)" font-size="65.0" text-anchor="middle" fill="#000" stroke="#fff" stroke-width="1.7" paint-order="fill stroke" letter-spacing="1.5">1000</text>
<text transform="translate(1207.3 1535.8) scale(0.9 1)" font-size="65.0" text-anchor="middle" fill="#000" stroke="#fff" stroke-width="1.7" paint-order="fill stroke" letter-spacing="1.5">1500</text>
<text transform="translate(1520.1 1535.8) scale(0.9 1)" font-size="65.0" text-anchor="middle" fill="#000" stroke="#fff" stroke-width="1.7" paint-order="fill stroke" letter-spacing="1.5">2000</text>
<text transform="translate(1833 1535.8) scale(0.9 1)" font-size="65.0" text-anchor="middle" fill="#000" stroke="#fff" stroke-width="1.7" paint-order="fill stroke" letter-spacing="1.5">2500</text>
<text transform="translate(1081.4 1601.6) scale(0.91 1)" font-size="80.0" text-anchor="middle" fill="#000" stroke="#fff" stroke-width="1.5" paint-order="fill stroke">time (s)</text>
<text transform="translate(87.2 751.2) rotate(-90) scale(0.91 1)" font-size="80.0" text-anchor="middle" fill="#000" stroke="#fff" stroke-width="1.5" paint-order="fill stroke">Spread radius (mm)</text>
<text transform="translate(2118 751.2) rotate(-90) scale(0.921 1)" font-size="80.0" text-anchor="middle" fill="#ff0780" stroke="#fff" stroke-width="1.5" paint-order="fill stroke">Contact angle (°)</text>
<text transform="translate(1740.5 156.2) scale(0.942 1)" font-size="78.8" text-anchor="start" fill="#000" stroke="#fff" stroke-width="1.5" paint-order="fill stroke">0kV</text>
<text transform="translate(1740.5 246.3) scale(0.942 1)" font-size="78.8" text-anchor="start" fill="#000" stroke="#fff" stroke-width="1.5" paint-order="fill stroke">4kV</text>
<text transform="translate(1740.5 336.4) scale(0.942 1)" font-size="78.8" text-anchor="start" fill="#000" stroke="#fff" stroke-width="1.5" paint-order="fill stroke">8kV</text>
</g>
</g>
</svg>
</body>
</html>
